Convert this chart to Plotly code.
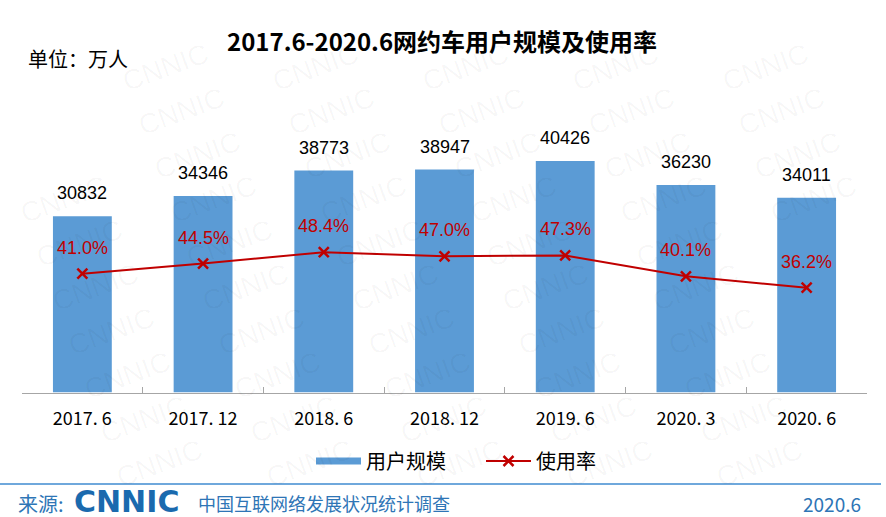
import plotly.graph_objects as go

categories = ["2017. 6", "2017. 12", "2018. 6", "2018. 12", "2019. 6", "2020. 3", "2020. 6"]
users = [30832, 34346, 38773, 38947, 40426, 36230, 34011]
rate = [0.410, 0.445, 0.484, 0.470, 0.473, 0.401, 0.362]
rate_labels = ["41.0%", "44.5%", "48.4%", "47.0%", "47.3%", "40.1%", "36.2%"]

W, H = 886, 517
L, R, T, B = 22, 19, 105, 124
PW, PH = W - L - R, H - T - B

def px(x):
    return (x - L) / PW

def py(y):
    return (H - B - y) / PH

BAR = "#5B9BD5"
RED = "#C00000"
BLUE = "#2E75B6"

fig = go.Figure()
fig.add_trace(go.Bar(
    x=categories, y=users, name="用户规模", showlegend=False,
    marker=dict(color=BAR, line=dict(color="white", width=1.5)),
    yaxis="y", hoverinfo="skip",
))
fig.add_trace(go.Scatter(
    x=[None], y=[None], name="用户规模", mode="lines",
    line=dict(color=BAR, width=7), yaxis="y", showlegend=True,
))
fig.add_trace(go.Scatter(
    x=categories, y=rate, name="使用率", mode="lines+markers",
    line=dict(color=RED, width=2),
    marker=dict(symbol="x-thin", size=10, line=dict(color=RED, width=2.5), color=RED),
    yaxis="y2",
))

ann = []
# watermark (kept fully inside the page)
for i in range(-2, 7):
    for j in range(-3, 12):
        cx = 165 + i * 150 + j * 16
        cy = 67 + j * 44
        if 62 < cx < W - 62 and 40 < cy < H - 40:
            ann.append(dict(x=px(cx), y=py(cy), xref="paper", yref="paper", text="CNNIC",
                            showarrow=False, textangle=-20,
                            font=dict(family="Liberation Sans", size=28, color="rgba(0,0,0,0.035)"),
                            xanchor="center", yanchor="middle"))

for c, v in zip(categories, users):
    ann.append(dict(x=c, y=v, xref="x", yref="y", text=str(v), showarrow=False,
                    yanchor="middle", yshift=22,
                    font=dict(family="Liberation Sans", size=18, color="#000000")))
for c, v, t in zip(categories, rate, rate_labels):
    ann.append(dict(x=c, y=v, xref="x", yref="y2", text=t, showarrow=False,
                    yanchor="middle", yshift=26,
                    font=dict(family="Liberation Sans", size=18, color=RED)))

ann.append(dict(x=px(442), y=py(40), xref="paper", yref="paper",
                text="<b>2017.6-2020.6网约车用户规模及使用率</b>", showarrow=False,
                xanchor="center", yanchor="middle",
                font=dict(family="Noto Sans CJK SC", size=24, color="#000000")))
ann.append(dict(x=px(26), y=py(58), xref="paper", yref="paper",
                text="单位：万人", showarrow=False, xanchor="left", yanchor="middle",
                font=dict(family="Noto Sans CJK SC", size=20, color="#000000")))
ann.append(dict(x=px(16), y=py(503), xref="paper", yref="paper",
                text="来源:", showarrow=False, xanchor="left", yanchor="middle",
                font=dict(family="Noto Sans CJK SC", size=20, color=BLUE)))
ann.append(dict(x=px(72), y=py(501), xref="paper", yref="paper",
                text="<b>CNNIC</b>", showarrow=False, xanchor="left", yanchor="middle",
                height=26, valign="middle",
                font=dict(family="DejaVu Sans", size=30, color="#1A6AAE")))
ann.append(dict(x=px(196), y=py(503), xref="paper", yref="paper",
                text="中国互联网络发展状况统计调查", showarrow=False, xanchor="left", yanchor="middle",
                font=dict(family="Noto Sans CJK SC", size=18, color=BLUE)))
ann.append(dict(x=px(863), y=py(503), xref="paper", yref="paper",
                text="2020.6", showarrow=False, xanchor="right", yanchor="middle",
                font=dict(family="Noto Sans CJK SC", size=19, color=BLUE)))

shapes = [dict(type="line", xref="paper", yref="paper", x0=px(0), x1=px(881),
               y0=py(484), y1=py(484), line=dict(color="#6FA8DC", width=2))]

fig.update_layout(
    width=W, height=H,
    margin=dict(l=L, r=R, t=T, b=B, pad=0),
    paper_bgcolor="white", plot_bgcolor="white",
    bargap=0.5,
    showlegend=True,
    legend=dict(orientation="h", x=px(311), y=py(461), xanchor="left", yanchor="middle",
                font=dict(family="Noto Sans CJK SC", size=20, color="#000000"),
                bgcolor="rgba(0,0,0,0)", itemwidth=45,
                entrywidth=110, entrywidthmode="pixels"),
    xaxis=dict(type="category", showline=True, linecolor="#A6A6A6", linewidth=1,
               ticks="inside", ticklen=6, tickcolor="#A6A6A6", tickson="boundaries",
               showgrid=False, zeroline=False,
               tickfont=dict(family="Noto Sans CJK SC", size=18, color="#000000"),
               ticklabelstandoff=9),
    yaxis=dict(range=[0, 50000], visible=False, showgrid=False, zeroline=False),
    yaxis2=dict(range=[0, 0.99], overlaying="y", side="right", visible=False,
                showgrid=False, zeroline=False),
    annotations=ann,
    shapes=shapes,
)

fig.write_html("out.html")
